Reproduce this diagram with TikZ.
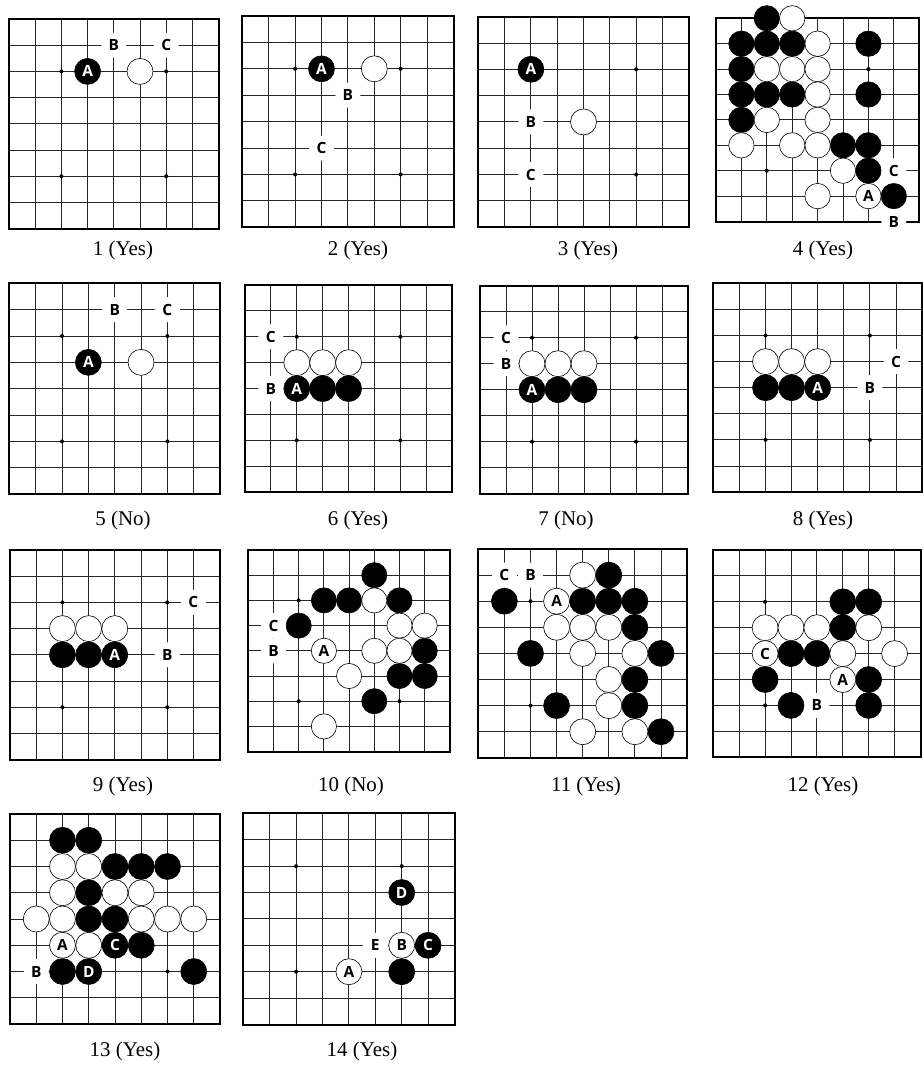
\documentclass[tikz,border=0pt]{standalone}
\usepackage{fontspec}
\setmainfont{Liberation Serif}
\newfontfamily\lblfont{Open Sans}
\usepackage{tikz}
\usetikzlibrary{positioning}

\tikzset{
  gridline/.style={line width=0.9bp,black!85},
  frame/.style={line width=2bp},
  goboard/.pic={
    \foreach \k in {1,...,7} {
      \draw[gridline] (\k,0) -- (\k,8);
      \draw[gridline] (0,\k) -- (8,\k);
    }
    \draw[frame] (0,0) rectangle (8,8);
    \foreach \p in {(2,2),(6,2),(2,6),(6,6)} \fill \p circle[radius=2bp];
  }
}

\begin{document}
\begin{tikzpicture}[x=1bp,y=-1bp,
  bstone/.style={circle,draw=black,fill=black,line width=0.6bp,minimum size=26bp,inner sep=0pt,text=white,font=\lblfont\bfseries\fontsize{15.5}{15.5}\selectfont},
  wstone/.style={bstone,fill=white,text=black},
  letter/.style={circle,fill=white,minimum size=25bp,inner sep=0pt,font=\lblfont\bfseries\fontsize{15.5}{15.5}\selectfont},
  caption/.style={font=\fontsize{21}{24}\selectfont}]
\useasboundingbox (0,0) rectangle (923,1068);

% row 1
\begin{scope}[shift={(9,19)},x=26.2bp,y=-26.2bp]
\pic {goboard};
\node[letter] (b1B) at (4,1) {B};
\node[letter] (b1C) at (6,1) {C};
\node[bstone] (b1A) at (3,2) {A};
\node[wstone] (b1w) at (5,2) {};
\end{scope}
\node[caption] (cap1) at (123,250) {1 (Yes)};

\begin{scope}[shift={(242.3,16)},x=26.4bp,y=-26.4bp]
\pic {goboard};
\node[bstone] (b2A) at (3,2) {A};
\node[wstone] (b2w) at (5,2) {};
\node[letter] (b2B) at (4,3) {B};
\node[letter] (b2C) at (3,5) {C};
\end{scope}
\node[caption] (cap2) at (358,250) {2 (Yes)};

\begin{scope}[shift={(478.3,16.7)},x=26.3bp,y=-26.3bp]
\pic {goboard};
\node[bstone] (b3A) at (2,2) {A};
\node[wstone] (b3w) at (4,4) {};
\node[letter] (b3B) at (2,4) {B};
\node[letter] (b3C) at (2,6) {C};
\end{scope}
\node[caption] (cap3) at (588,250) {3 (Yes)};

\begin{scope}[shift={(716,18.3)},x=25.4bp,y=-25.4bp,bstone/.append style={minimum size=25.4bp}]
\pic {goboard};
\foreach \p [count=\k] in {(2,0),(1,1),(2,1),(3,1),(6,1),(1,2),(1,3),(2,3),(3,3),(6,3),(1,4),(5,5),(6,5),(6,6),(7,7)}
  \node[bstone] (b4b\k) at \p {};
\foreach \p [count=\k] in {(3,0),(4,1),(2,2),(3,2),(4,2),(4,3),(2,4),(4,4),(1,5),(3,5),(4,5),(5,6),(4,7)}
  \node[wstone] (b4w\k) at \p {};
\node[wstone] (b4A) at (6,7) {A};
\node[letter] (b4C) at (7,6) {C};
\node[letter] (b4B) at (7,8) {B};
\end{scope}
\node[caption] (cap4) at (823,250) {4 (Yes)};

% row 2
\begin{scope}[shift={(9.3,283.3)},x=26.35bp,y=-26.35bp]
\pic {goboard};
\node[letter] (b5B) at (4,1) {B};
\node[letter] (b5C) at (6,1) {C};
\node[bstone] (b5A) at (3,3) {A};
\node[wstone] (b5w) at (5,3) {};
\end{scope}
\node[caption] (cap5) at (123,520) {5 (No)};

\begin{scope}[shift={(245,285)},x=25.9bp,y=-25.9bp]
\pic {goboard};
\foreach \x [count=\k] in {2,3,4} \node[wstone] (b6w\k) at (\x,3) {};
\node[bstone] (b6A) at (2,4) {A};
\foreach \x [count=\k] in {3,4} \node[bstone] (b6b\k) at (\x,4) {};
\node[letter] (b6C) at (1,2) {C};
\node[letter] (b6B) at (1,4) {B};
\end{scope}
\node[caption] (cap6) at (358,520) {6 (Yes)};

\begin{scope}[shift={(480,285.7)},x=26bp,y=-26bp]
\pic {goboard};
\node[letter] (b7C) at (1,2) {C};
\node[letter] (b7B) at (1,3) {B};
\foreach \x [count=\k] in {2,3,4} \node[wstone] (b7w\k) at (\x,3) {};
\node[bstone] (b7A) at (2,4) {A};
\foreach \x [count=\k] in {3,4} \node[bstone] (b7b\k) at (\x,4) {};
\end{scope}
\node[caption] (cap7) at (566,520) {7 (No)};

\begin{scope}[shift={(713.3,283.3)},x=26.1bp,y=-26.1bp]
\pic {goboard};
\foreach \x [count=\k] in {2,3,4} \node[wstone] (b8w\k) at (\x,3) {};
\foreach \x [count=\k] in {2,3} \node[bstone] (b8b\k) at (\x,4) {};
\node[bstone] (b8A) at (4,4) {A};
\node[letter] (b8C) at (7,3) {C};
\node[letter] (b8B) at (6,4) {B};
\end{scope}
\node[caption] (cap8) at (823,520) {8 (Yes)};

% row 3
\begin{scope}[shift={(10,550)},x=26.2bp,y=-26.2bp]
\pic {goboard};
\foreach \x [count=\k] in {2,3,4} \node[wstone] (b9w\k) at (\x,3) {};
\foreach \x [count=\k] in {2,3} \node[bstone] (b9b\k) at (\x,4) {};
\node[bstone] (b9A) at (4,4) {A};
\node[letter] (b9C) at (7,2) {C};
\node[letter] (b9B) at (6,4) {B};
\end{scope}
\node[caption] (cap9) at (123,786) {9 (Yes)};

\begin{scope}[shift={(248.3,550)},x=25.2bp,y=-25.2bp,bstone/.append style={minimum size=25.2bp}]
\pic {goboard};
\foreach \p [count=\k] in {(5,1),(3,2),(4,2),(6,2),(2,3),(7,4),(6,5),(7,5),(5,6)}
  \node[bstone] (b10b\k) at \p {};
\foreach \p [count=\k] in {(5,2),(6,3),(7,3),(5,4),(6,4),(4,5),(3,7)}
  \node[wstone] (b10w\k) at \p {};
\node[wstone] (b10A) at (3,4) {A};
\node[letter] (b10C) at (1,3) {C};
\node[letter] (b10B) at (1,4) {B};
\end{scope}
\node[caption] (cap10) at (351,786) {10 (No)};

\begin{scope}[shift={(478.3,549)},x=26.1bp,y=-26.1bp]
\pic {goboard};
\foreach \p [count=\k] in {(5,1),(1,2),(4,2),(5,2),(6,2),(6,3),(2,4),(7,4),(6,5),(3,6),(6,6),(7,7)}
  \node[bstone] (b11b\k) at \p {};
\foreach \p [count=\k] in {(4,1),(3,3),(4,3),(5,3),(4,4),(6,4),(5,5),(5,6),(4,7),(6,7)}
  \node[wstone] (b11w\k) at \p {};
\node[wstone] (b11A) at (3,2) {A};
\node[letter] (b11C) at (1,1) {C};
\node[letter] (b11B) at (2,1) {B};
\end{scope}
\node[caption] (cap11) at (586,786) {11 (Yes)};

\begin{scope}[shift={(713.3,550)},x=25.9bp,y=-25.9bp]
\pic {goboard};
\foreach \p [count=\k] in {(5,2),(6,2),(5,3),(3,4),(4,4),(2,5),(6,5),(3,6),(6,6)}
  \node[bstone] (b12b\k) at \p {};
\foreach \p [count=\k] in {(2,3),(3,3),(4,3),(6,3),(5,4),(7,4)}
  \node[wstone] (b12w\k) at \p {};
\node[wstone] (b12C) at (2,4) {C};
\node[wstone] (b12A) at (5,5) {A};
\node[letter] (b12B) at (4,6) {B};
\end{scope}
\node[caption] (cap12) at (823,786) {12 (Yes)};

% row 4
\begin{scope}[shift={(10,814)},x=26.25bp,y=-26.25bp]
\pic {goboard};
\foreach \p [count=\k] in {(2,1),(3,1),(4,2),(5,2),(6,2),(3,3),(3,4),(4,4),(5,5),(2,6),(7,6)}
  \node[bstone] (b13b\k) at \p {};
\foreach \p [count=\k] in {(2,2),(3,2),(2,3),(4,3),(5,3),(1,4),(2,4),(5,4),(6,4),(7,4),(3,5)}
  \node[wstone] (b13w\k) at \p {};
\node[wstone] (b13A) at (2,5) {A};
\node[bstone] (b13C) at (4,5) {C};
\node[bstone] (b13D) at (3,6) {D};
\node[letter] (b13B) at (1,6) {B};
\end{scope}
\node[caption] (cap13) at (125,1051) {13 (Yes)};

\begin{scope}[shift={(243.3,813.3)},x=26.4bp,y=-26.4bp]
\pic {goboard};
\node[bstone] (b14D) at (6,3) {D};
\node[letter] (b14E) at (5,5) {E};
\node[wstone] (b14B) at (6,5) {B};
\node[bstone] (b14C) at (7,5) {C};
\node[wstone] (b14A) at (4,6) {A};
\node[bstone] (b14b) at (6,6) {};
\end{scope}
\node[caption] (cap14) at (362,1051) {14 (Yes)};
\end{tikzpicture}
\end{document}
